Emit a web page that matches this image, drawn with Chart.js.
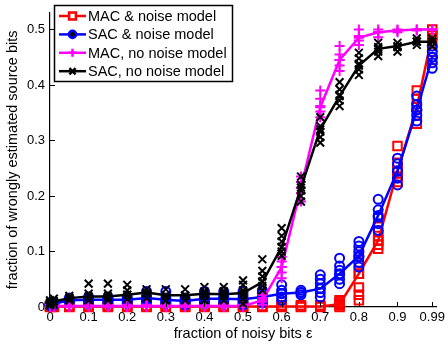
<!DOCTYPE html>
<html>
<head>
<meta charset="utf-8">
<script src="https://cdn.jsdelivr.net/npm/chart.js@4.4.1/dist/chart.umd.min.js"></script>
<style>
  html, body { margin: 0; padding: 0; background: #fff; }
  #wrap { width: 448px; height: 344px; }
</style>
</head>
<body>
<div id="wrap"><canvas id="chart" width="448" height="344"></canvas></div>
<script>
// noise levels (fraction of noisy bits)
const xs = [0, 0.01, 0.05, 0.1, 0.15, 0.2, 0.25, 0.3, 0.35, 0.4, 0.45, 0.5, 0.55, 0.6, 0.65, 0.7, 0.75, 0.8, 0.85, 0.9, 0.95, 0.99];
const xTicks = [0, 0.1, 0.2, 0.3, 0.4, 0.5, 0.6, 0.7, 0.8, 0.9, 0.99];
const yTicks = [0, 0.1, 0.2, 0.3, 0.4, 0.5];

// mean error per noise level
const macNoiseMean = [0.001, 0.001, 0.001, 0.001, 0.001, 0.001, 0.001, 0.001, 0.001, 0.001, 0.001, 0.001, 0.001, 0.001, 0.001, 0.001, 0.005, 0.06, 0.12, 0.245, 0.36, 0.49];
const sacNoiseMean = [0.004, 0.006, 0.012, 0.013, 0.013, 0.013, 0.016, 0.013, 0.011, 0.015, 0.015, 0.014, 0.018, 0.024, 0.026, 0.033, 0.06, 0.092, 0.165, 0.245, 0.355, 0.45];
const macFreeMean = [0.002, 0.002, 0.002, 0.002, 0.002, 0.002, 0.002, 0.002, 0.002, 0.002, 0.002, 0.002, 0.012, 0.072, 0.215, 0.36, 0.445, 0.485, 0.495, 0.498, 0.5, 0.5];
const sacFreeMean = [0.006, 0.01, 0.016, 0.019, 0.019, 0.022, 0.026, 0.021, 0.021, 0.024, 0.023, 0.025, 0.045, 0.108, 0.215, 0.32, 0.38, 0.435, 0.465, 0.47, 0.478, 0.478];

// individual runs per noise level
const macNoiseTrials = [
  [0, 0.002], [0, 0.002], [0, 0.002], [0, 0.002], [0, 0.002], [0, 0.002], [0, 0.002], [0, 0.002],
  [0, 0.002], [0, 0.002], [0, 0.002], [0, 0.002], [0, 0.002], [0, 0.003], [0, 0.003], [0, 0.003],
  [0, 0.003, 0.006, 0.009, 0.012],
  [0.012, 0.022, 0.035, 0.06, 0.08, 0.1],
  [0.105, 0.112, 0.12, 0.128, 0.138, 0.16],
  [0.225, 0.235, 0.245, 0.26, 0.29],
  [0.33, 0.345, 0.36, 0.375, 0.39],
  [0.445, 0.46, 0.475, 0.49, 0.5]
];
const sacNoiseTrials = [
  [0.002, 0.006], [0.004, 0.008], [0.008, 0.012, 0.016],
  [0.006, 0.01, 0.014, 0.018], [0.006, 0.01, 0.014, 0.018], [0.006, 0.01, 0.014, 0.018],
  [0.01, 0.014, 0.02, 0.028], [0.006, 0.01, 0.016, 0.028], [0.004, 0.008, 0.012, 0.016],
  [0.006, 0.01, 0.016, 0.022, 0.028], [0.006, 0.01, 0.016, 0.022, 0.028], [0.004, 0.01, 0.016, 0.022, 0.028],
  [0.008, 0.012, 0.018, 0.024, 0.03],
  [0.012, 0.018, 0.024, 0.03, 0.04],
  [0.022, 0.026, 0.03],
  [0.018, 0.026, 0.034, 0.042, 0.05, 0.058],
  [0.042, 0.05, 0.058, 0.066, 0.074, 0.088],
  [0.072, 0.08, 0.09, 0.1, 0.11, 0.118],
  [0.138, 0.15, 0.162, 0.175, 0.194],
  [0.22, 0.232, 0.245, 0.258, 0.268],
  [0.335, 0.345, 0.355, 0.365, 0.38],
  [0.43, 0.44, 0.45, 0.46, 0.47]
];
const macFreeTrials = [
  [0, 0.002, 0.004], [0, 0.002, 0.004], [0, 0.002, 0.004], [0, 0.002, 0.004], [0, 0.002, 0.004], [0, 0.002, 0.004],
  [0, 0.002, 0.004], [0, 0.002, 0.004], [0, 0.002, 0.004], [0, 0.002, 0.004], [0, 0.002, 0.004], [0, 0.002, 0.004],
  [0.004, 0.01, 0.016, 0.022],
  [0.052, 0.062, 0.072, 0.082, 0.09],
  [0.19, 0.205, 0.215, 0.225, 0.235],
  [0.342, 0.352, 0.362, 0.375, 0.39],
  [0.425, 0.435, 0.445, 0.455, 0.47],
  [0.472, 0.48, 0.488, 0.5],
  [0.486, 0.495, 0.5],
  [0.495, 0.5],
  [0.498, 0.5],
  [0.5, 0.5]
];
const sacFreeTrials = [
  [0.003, 0.008, 0.012], [0.005, 0.01, 0.015], [0.012, 0.016, 0.02],
  [0.012, 0.018, 0.024, 0.042], [0.012, 0.018, 0.024, 0.042], [0.014, 0.022, 0.03, 0.04],
  [0.016, 0.024, 0.032], [0.012, 0.02, 0.032], [0.012, 0.02, 0.032],
  [0.012, 0.02, 0.028, 0.036], [0.012, 0.02, 0.028, 0.036],
  [0.006, 0.014, 0.022, 0.03, 0.04, 0.048],
  [0.03, 0.038, 0.046, 0.055, 0.065, 0.086],
  [0.092, 0.1, 0.108, 0.118, 0.128, 0.142],
  [0.19, 0.2, 0.21, 0.22, 0.235],
  [0.296, 0.306, 0.316, 0.326, 0.342],
  [0.362, 0.372, 0.382, 0.392, 0.405],
  [0.418, 0.428, 0.438, 0.448, 0.458],
  [0.452, 0.46, 0.468, 0.476],
  [0.46, 0.468, 0.476],
  [0.472, 0.478, 0.484],
  [0.47, 0.478, 0.484]
];

const FONT = '"Liberation Sans", Arial, Helvetica, sans-serif';

const series = [
  { label: 'MAC & noise model', color: '#ff0000', style: 'rect', radius: 6, mean: macNoiseMean, trials: macNoiseTrials, order: 4 },
  { label: 'SAC & noise model', color: '#0000ff', style: 'circle', radius: 4.5, mean: sacNoiseMean, trials: sacNoiseTrials, order: 3 },
  { label: 'MAC, no noise model', color: '#ff00ff', style: 'cross', radius: 5, mean: macFreeMean, trials: macFreeTrials, order: 2 },
  { label: 'SAC, no noise model', color: '#000000', style: 'crossRot', radius: 5.5, mean: sacFreeMean, trials: sacFreeTrials, order: 1 }
];

const datasets = [];
series.forEach(s => {
  // mean curve
  datasets.push({
    label: s.label,
    data: xs.map((x, i) => ({ x, y: s.mean[i] })),
    borderColor: s.color, backgroundColor: 'transparent',
    borderWidth: 2.5, pointStyle: s.style, pointRadius: s.radius,
    pointBorderColor: s.color, pointBorderWidth: 2, pointBackgroundColor: 'transparent',
    tension: 0, clip: false, order: s.order
  });
  // single runs as loose markers
  const pts = [];
  xs.forEach((x, i) => s.trials[i].forEach(v => pts.push({ x, y: v })));
  datasets.push({
    label: s.label + ' runs',
    data: pts, showLine: false,
    pointStyle: s.style, pointRadius: s.radius,
    pointBorderColor: s.color, pointBorderWidth: 2, pointBackgroundColor: 'transparent',
    clip: false, order: s.order
  });
});

// matlab-style ticks pointing into the plot area
const innerTicks = {
  id: 'innerTicks',
  afterDraw(chart) {
    const { ctx, chartArea: a, scales: { x, y } } = chart;
    ctx.save();
    ctx.strokeStyle = '#000';
    ctx.lineWidth = 1;
    ctx.beginPath();
    xTicks.forEach(v => {
      const px = Math.round(x.getPixelForValue(v)) + 0.5;
      ctx.moveTo(px, a.bottom); ctx.lineTo(px, a.bottom - 5);
    });
    yTicks.forEach(v => {
      const py = Math.round(y.getPixelForValue(v)) + 0.5;
      ctx.moveTo(a.left, py); ctx.lineTo(a.left + 5, py);
    });
    ctx.stroke();
    ctx.restore();
  }
};

// boxed legend in the upper left corner
const boxLegend = {
  id: 'boxLegend',
  afterDraw(chart) {
    const ctx = chart.ctx;
    const bx = 54, by = 5, bw = 178, bh = 76;
    ctx.save();
    ctx.fillStyle = '#fff';
    ctx.fillRect(bx, by, bw, bh);
    ctx.strokeStyle = '#000';
    ctx.lineWidth = 1.5;
    ctx.strokeRect(bx + 0.5, by + 0.5, bw, bh);
    ctx.font = '14.5px ' + FONT;
    ctx.textBaseline = 'middle';
    series.forEach((s, i) => {
      const yy = 16 + i * 18.4;
      ctx.strokeStyle = s.color;
      ctx.lineWidth = 2.5;
      ctx.beginPath();
      ctx.moveTo(59, yy); ctx.lineTo(86, yy);
      ctx.stroke();
      Chart.helpers.drawPoint(ctx, { pointStyle: s.style, radius: s.radius * 0.8, rotation: 0, borderWidth: 2 }, 72.5, yy);
      ctx.fillStyle = '#000';
      ctx.fillText(s.label, 88, yy + 1);
    });
    ctx.restore();
  }
};

new Chart(document.getElementById('chart'), {
  type: 'line',
  data: { datasets },
  options: {
    responsive: false,
    animation: false,
    layout: { padding: { left: 0, top: 2, right: 11, bottom: 0 } },
    plugins: { legend: { display: false }, tooltip: { enabled: false } },
    scales: {
      x: {
        type: 'linear', min: 0, max: 1.0,
        grid: { display: false, drawTicks: false },
        border: { display: true, color: '#000', width: 1.2 },
        afterBuildTicks: sc => { sc.ticks = xTicks.map(v => ({ value: v })); },
        afterFit: sc => { sc.height = 37; },
        ticks: { color: '#000', padding: 3, maxRotation: 0, autoSkip: false, font: { family: FONT, size: 13 }, callback: v => String(v) },
        title: { display: true, text: 'fraction of noisy bits ε', color: '#000', padding: { top: 0, bottom: 1 }, font: { family: FONT, size: 14.5 } }
      },
      y: {
        type: 'linear', min: 0, max: 0.53,
        grid: { display: false, drawTicks: false },
        border: { display: true, color: '#000', width: 1.2 },
        afterBuildTicks: sc => { sc.ticks = yTicks.map(v => ({ value: v })); },
        afterFit: sc => { sc.width = 50; },
        ticks: { color: '#000', padding: 5, font: { family: FONT, size: 13 }, callback: v => String(v) },
        title: { display: true, text: 'fraction of wrongly estimated source bits', color: '#000', padding: { top: 4, bottom: 0 }, font: { family: FONT, size: 14.5 } }
      }
    }
  },
  plugins: [innerTicks, boxLegend]
});
</script>
</body>
</html>
